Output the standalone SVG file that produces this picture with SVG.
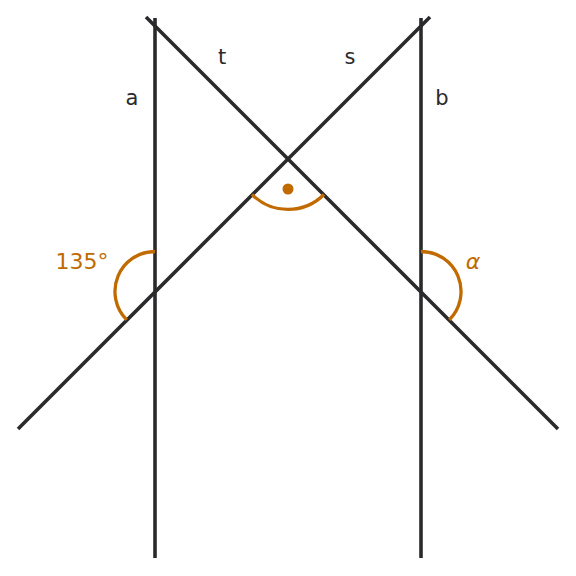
<svg xmlns="http://www.w3.org/2000/svg" width="576" height="576" viewBox="0 0 576 576">
<style>
.ln{stroke:#2a2a2c;stroke-width:3.6;fill:none}
.arc{stroke:#c06a00;stroke-width:3.3;fill:none}
.lbl{font-family:"DejaVu Sans",sans-serif;font-size:21px;fill:#2a2a2a;text-anchor:middle}
.ang{font-family:"DejaVu Sans",sans-serif;font-size:22px;fill:#c06a00;text-anchor:middle}
</style>
<rect width="576" height="576" fill="#fff"/>
<g id="connectors">
<line class="ln" x1="155" y1="18" x2="155" y2="558"/>
<line class="ln" x1="421" y1="18" x2="421" y2="558"/>
<line class="ln" x1="146" y1="17" x2="558" y2="429"/>
<line class="ln" x1="18" y1="429" x2="430" y2="17"/>
</g>
<g id="angle-left">
<path class="arc" d="M155,251.5 A40,40 0 0 0 126.7,319.8"/>
<text class="ang" x="82" y="269">135°</text>
</g>
<g id="angle-mid">
<path class="arc" d="M252,194.5 A51,51 0 0 0 324,194.5"/>
<circle cx="288" cy="189" r="5.5" fill="#c06a00"/>
</g>
<g id="angle-right">
<path class="arc" d="M421,251.5 A40,40 0 0 1 449.3,319.8"/>
<text class="ang" x="473" y="269" font-style="italic">α</text>
</g>
<g id="labels">
<text class="lbl" x="132" y="105">a</text>
<text class="lbl" x="442" y="105">b</text>
<text class="lbl" x="222" y="64">t</text>
<text class="lbl" x="350" y="64">s</text>
</g>
</svg>
